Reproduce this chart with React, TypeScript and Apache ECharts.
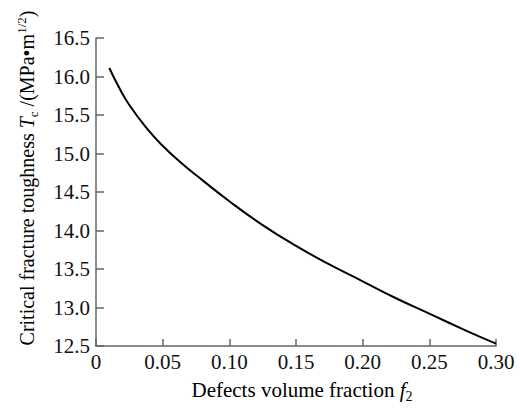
import React, { useEffect, useRef } from "react";
import * as echarts from "echarts";

const fractions = [0.01, 0.0175, 0.025, 0.0375, 0.05, 0.0625, 0.075, 0.1, 0.125, 0.15, 0.175, 0.2, 0.225, 0.25, 0.275, 0.3];
const toughness = [16.11, 15.85, 15.63, 15.34, 15.1, 14.9, 14.72, 14.38, 14.07, 13.8, 13.56, 13.34, 13.12, 12.92, 12.72, 12.53];

const xTicks = { min: 0, max: 0.3, interval: 0.05 };
const yTicks = { min: 12.5, max: 16.5, interval: 0.5 };

const FONT = '"Liberation Serif", "Times New Roman", serif';

export default function App() {
  const ref = useRef<HTMLDivElement>(null);
  useEffect(() => {
    document.body.style.margin = "0";
    if (!ref.current) return;
    const chart = echarts.init(ref.current, null, { renderer: "svg" });
    const mkRich = (size: number, small: number) => {
      const normal = { fontSize: size, fontFamily: FONT, color: "#111", lineHeight: size + 5 };
      return {
        n: normal,
        i: { ...normal, fontStyle: "italic" },
        sub: { fontSize: small, fontFamily: FONT, color: "#111", lineHeight: small + 1, verticalAlign: "bottom" },
        sup: { fontSize: small, fontFamily: FONT, color: "#111", lineHeight: small + 1, verticalAlign: "top" },
      };
    };
    chart.setOption({
      animation: false,
      grid: { left: 96, right: 24, top: 38, bottom: 63, containLabel: false },
      xAxis: {
        type: "value",
        min: xTicks.min,
        max: xTicks.max,
        interval: xTicks.interval,
        axisLine: { show: true, lineStyle: { color: "#666", width: 1.5 } },
        axisTick: { show: true, inside: true, length: 7, lineStyle: { color: "#666", width: 1.5 } },
        splitLine: { show: false },
        axisLabel: {
          margin: 5,
          fontSize: 21,
          fontFamily: FONT,
          color: "#111",
          formatter: (v: number) => (v === 0 ? "0" : v.toFixed(2)),
        },
      },
      yAxis: {
        type: "value",
        min: yTicks.min,
        max: yTicks.max,
        interval: yTicks.interval,
        axisLine: { show: true, lineStyle: { color: "#666", width: 1.5 } },
        axisTick: { show: true, inside: true, length: 8, lineStyle: { color: "#666", width: 1.5 } },
        splitLine: { show: false },
        axisLabel: {
          margin: 6,
          fontSize: 21,
          fontFamily: FONT,
          color: "#111",
          formatter: (v: number) => v.toFixed(1),
        },
      },
      graphic: [
        {
          type: "text",
          x: 27,
          y: 178,
          rotation: Math.PI / 2,
          style: {
            text: "{n|Critical fracture toughness }{i|T}{sub|c}{n| /(MPa•m}{sup|1/2}{n|)}",
            rich: mkRich(20, 13),
            align: "center",
            verticalAlign: "middle",
          },
        },
        {
          type: "text",
          x: 302,
          y: 390,
          style: {
            text: "{n|Defects volume fraction }{i|f}{sub|2}",
            rich: mkRich(21, 14),
            align: "center",
            verticalAlign: "middle",
          },
        },
      ],
      series: [
        {
          type: "line",
          data: fractions.map((f, i) => [f, toughness[i]]),
          smooth: 0.5,
          showSymbol: false,
          lineStyle: { color: "#000", width: 2 },
        },
      ],
    });
    return () => chart.dispose();
  }, []);
  return <div ref={ref} style={{ width: 520, height: 409 }} />;
}
